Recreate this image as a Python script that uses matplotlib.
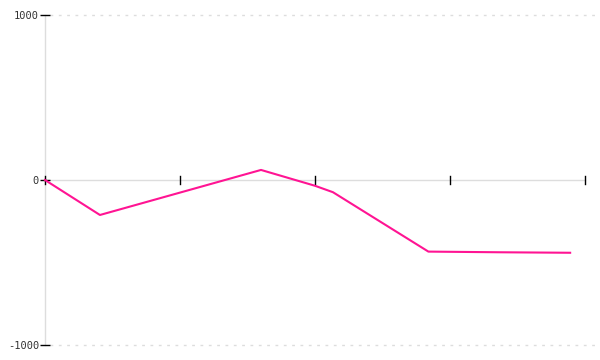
import matplotlib
matplotlib.use("Agg")
import matplotlib.pyplot as plt

# Datos
valores_x = [0, 0.407, 1.6, 2.0, 2.133, 2.84, 3.37, 3.89]
valores_y = [0, -212, 61, -35, -74, -434, -438, -441]
ticks_x = [0, 1, 2, 3, 4]
ticks_y = [-1000, 0, 1000]
etiquetas_y = ["-1000", "0", "1000"]

color_linea = "#ff1493"
gris = "#dddddd"

fig = plt.figure(figsize=(6, 3.6), dpi=100)
ax = fig.add_axes([0.075, 1 - 345 / 360, 0.9, 330 / 360])

ax.set_xlim(0, 4)
ax.set_ylim(-1000, 1000)

for s in ax.spines.values():
    s.set_visible(False)

# eje y y eje x (en cero) en gris claro
ax.plot([0, 0], [-1000, 1000], color=gris, lw=1, clip_on=False, zorder=1)
ax.plot([0, 4], [0, 0], color=gris, lw=1, clip_on=False, zorder=1)

# líneas de rejilla punteadas en ±1000
for v in [-1000, 1000]:
    ax.plot([0.01, 1.02], [v, v], color=gris, lw=1, ls=(0, (2, 4)),
            transform=ax.get_yaxis_transform(), clip_on=False, zorder=1)

ax.plot(valores_x, valores_y, color=color_linea, lw=1.5, clip_on=False, zorder=3)

ax.set_yticks(ticks_y)
ax.set_yticklabels(etiquetas_y, fontfamily="DejaVu Sans Mono", fontsize=7.5, color="#333333")
ax.tick_params(axis="y", direction="inout", length=6.5, width=1, color="black", pad=1)

# ticks del eje x sobre la línea del cero, sin etiquetas
ax.set_xticks([])
for t in ticks_x:
    ax.plot([t, t], [-25, 25], color="black", lw=1, clip_on=False, zorder=2)

fig.savefig("out.png", dpi=100)
